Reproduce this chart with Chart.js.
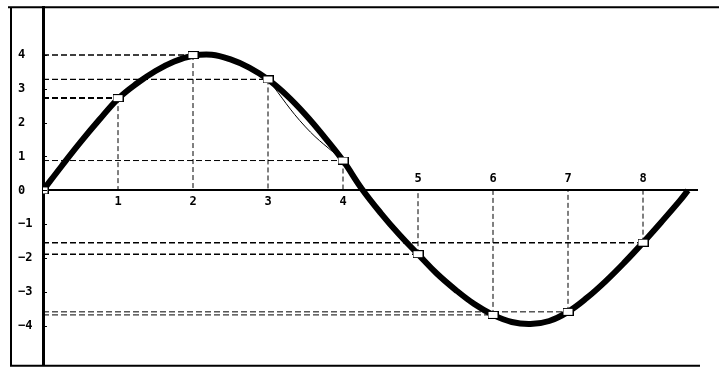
<!DOCTYPE html>
<html>
<head>
<meta charset="utf-8">
<style>
  html, body { margin: 0; padding: 0; background: #fff; }
  #wrap { width: 719px; height: 373px; }
</style>
<script src="https://cdn.jsdelivr.net/npm/chart.js@4/dist/chart.umd.min.js"></script>
</head>
<body>
<div id="wrap"><canvas id="chart"></canvas></div>
<script>
// thick curve
const curveX = [0, 0.25, 0.5, 0.75, 1, 1.25, 1.5, 1.75, 2, 2.25, 2.5, 2.75, 3, 3.25, 3.5, 3.75,
                4, 4.25, 4.5, 4.75, 5, 5.25, 5.5, 5.75, 6, 6.25, 6.5, 6.75, 7, 7.25, 7.5, 7.75,
                8, 8.25, 8.5, 8.6];
const curveY = [0, 0.72, 1.42, 2.08, 2.70, 3.15, 3.52, 3.80, 3.97, 4.0, 3.86, 3.62, 3.27, 2.80, 2.23, 1.58,
                0.88, 0.05, -0.66, -1.30, -1.88, -2.45, -2.93, -3.35, -3.67, -3.88, -3.94, -3.85, -3.58, -3.17, -2.68, -2.13,
                -1.54, -0.92, -0.28, 0];

// square markers
const pointX = [0, 1, 2, 3, 4, 5, 6, 7, 8];
const pointY = [0, 2.72, 3.99, 3.27, 0.88, -1.88, -3.67, -3.58, -1.54];

// thin chord between markers 3 and 4
const chordX = [3, 3.5, 4];
const chordY = [3.27, 1.87, 0.88];

const yTicks = [-4, -3, -2, -1, 0, 1, 2, 3, 4];
const yTickLabels = ['\u22124', '\u22123', '\u22122', '\u22121', '0', '1', '2', '3', '4'];
const xTicks = [1, 2, 3, 4, 5, 6, 7, 8];
const xTickLabels = ['1', '2', '3', '4', '5', '6', '7', '8'];

// line width of each horizontal guide (by marker index)
const hGuideWidth = [1, 2, 1.5, 1.2, 1, 1.5, 1, 1, 1.5];

const LABEL_FONT = 'bold 12px "DejaVu Sans Mono", monospace';

// marker image: small white rectangle with a black outline
const marker = document.createElement('canvas');
marker.width = 11;
marker.height = 8;
(function() {
    const m = marker.getContext('2d');
    m.fillStyle = '#fff';
    m.fillRect(0, 0, 11, 8);
    m.strokeStyle = '#000';
    m.lineWidth = 1;
    m.strokeRect(0.5, 0.5, 10, 7);
})();

const datasets = [];

datasets.push({
    data: pointX.map((x, i) => ({ x: x, y: pointY[i] })),
    showLine: false,
    pointStyle: marker,
    pointRadius: 5,
    pointHoverRadius: 5
});

datasets.push({
    data: curveX.map((x, i) => ({ x: x, y: curveY[i] })),
    borderColor: '#000',
    borderWidth: 6,
    tension: 0.4,
    pointRadius: 0,
    borderCapStyle: 'butt'
});

datasets.push({
    data: chordX.map((x, i) => ({ x: x, y: chordY[i] })),
    borderColor: '#000',
    borderWidth: 1,
    tension: 0.4,
    pointRadius: 0
});

// dashed guides from each marker to both axes
for (let i = 1; i < pointX.length; i++) {
    datasets.push({
        data: [{ x: 0, y: pointY[i] }, { x: pointX[i], y: pointY[i] }],
        borderColor: '#000',
        borderWidth: hGuideWidth[i],
        borderDash: [6, 3],
        pointRadius: 0
    });
    datasets.push({
        data: [{ x: pointX[i], y: pointY[i] }, { x: pointX[i], y: 0 }],
        borderColor: '#000',
        borderWidth: 1,
        borderDash: [5, 3],
        pointRadius: 0
    });
}

const decorations = {
    id: 'decorations',
    afterDraw(chart) {
        const ctx = chart.ctx;
        const ca = chart.chartArea;
        const xs = chart.scales.x;
        const ys = chart.scales.y;
        ctx.save();

        // outer frame
        ctx.strokeStyle = '#000';
        ctx.lineWidth = 2;
        ctx.beginPath();
        ctx.moveTo(ca.left - 35, ca.top);
        ctx.lineTo(chart.width, ca.top);
        ctx.moveTo(ca.left - 32, ca.top);
        ctx.lineTo(ca.left - 32, ca.bottom);
        ctx.lineTo(ca.right + 3, ca.bottom);
        ctx.stroke();

        // small inward ticks on the y axis
        ctx.lineWidth = 1;
        ctx.beginPath();
        yTicks.forEach(v => {
            const py = Math.round(ys.getPixelForValue(v)) + 0.5;
            ctx.moveTo(ca.left, py);
            ctx.lineTo(ca.left + 4, py);
        });
        ctx.stroke();

        // x labels, on the side away from the marker
        const y0 = ys.getPixelForValue(0);
        ctx.fillStyle = '#000';
        ctx.font = LABEL_FONT;
        ctx.textAlign = 'center';
        ctx.textBaseline = 'middle';
        xTicks.forEach((v, i) => {
            const px = xs.getPixelForValue(v);
            const below = pointY[pointX.indexOf(v)] > 0;
            ctx.fillText(xTickLabels[i], px, below ? y0 + 11 : y0 - 12);
        });
        ctx.restore();
    }
};

new Chart(document.getElementById('chart').getContext('2d'), {
    type: 'line',
    data: { datasets: datasets },
    options: {
        responsive: true,
        maintainAspectRatio: false,
        animation: false,
        events: [],
        layout: { padding: { top: 5, bottom: 1, left: 18, right: 22 } },
        plugins: { legend: { display: false }, tooltip: { enabled: false } },
        scales: {
            x: {
                type: 'linear',
                position: { y: 0 },
                min: 0,
                max: 8.72,
                grid: { display: true, drawOnChartArea: false, drawTicks: false },
                border: { display: true, color: '#000', width: 2 },
                ticks: { display: false }
            },
            y: {
                type: 'linear',
                position: 'left',
                min: -5.17,
                max: 5.4,
                afterFit: s => { s.width = 25; },
                afterBuildTicks: s => { s.ticks = yTicks.map(v => ({ value: v })); },
                grid: { drawOnChartArea: false, drawTicks: false },
                border: { display: true, color: '#000', width: 3 },
                ticks: {
                    crossAlign: 'far',
                    padding: 0,
                    color: '#000',
                    font: { family: '"DejaVu Sans Mono", monospace', size: 12, weight: 'bold' },
                    callback: (v) => yTickLabels[yTicks.indexOf(v)]
                }
            }
        }
    },
    plugins: [decorations]
});
</script>
</body>
</html>
